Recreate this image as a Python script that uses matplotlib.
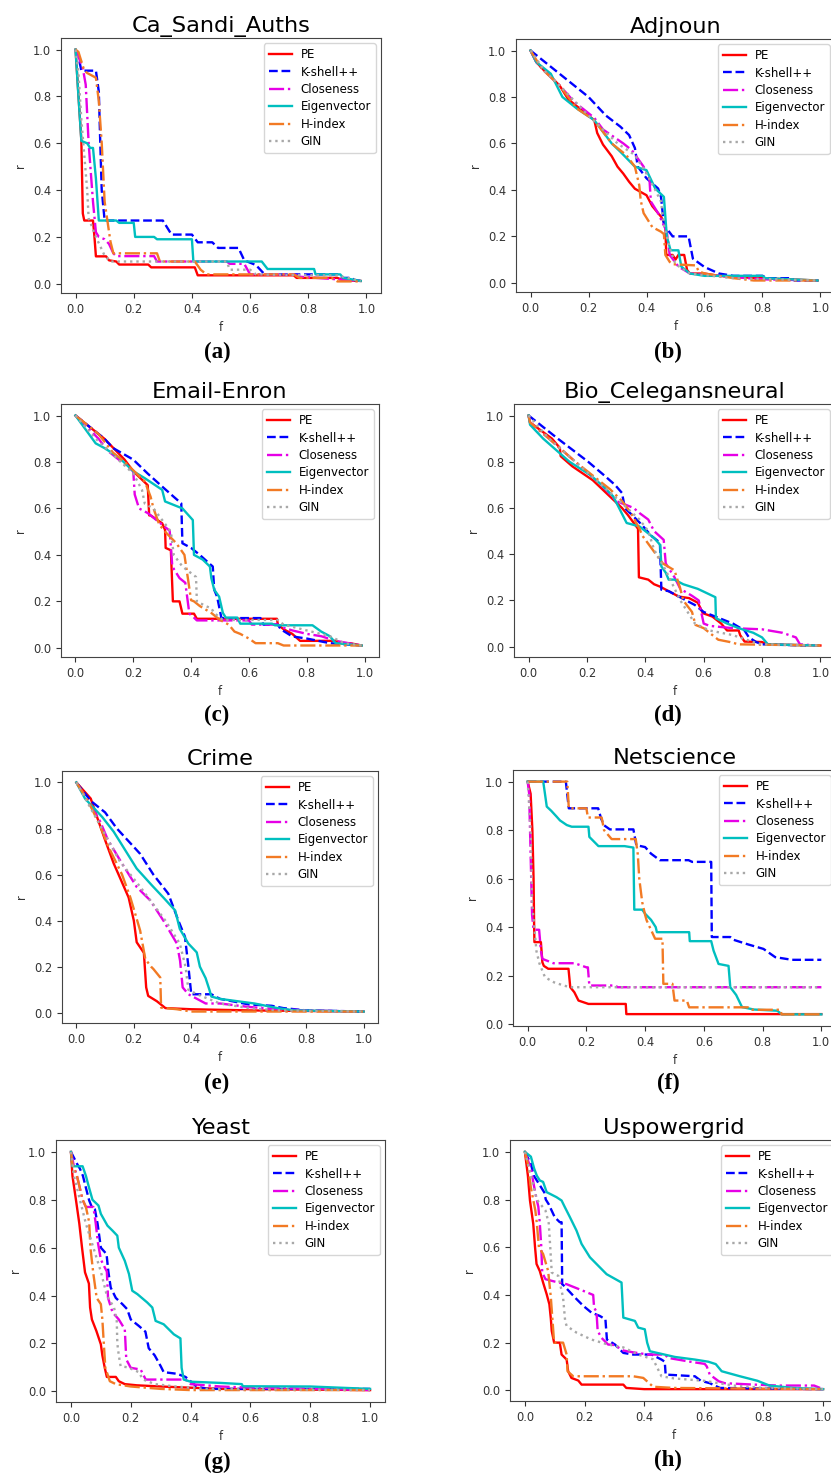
import matplotlib
matplotlib.use("Agg")
import matplotlib.pyplot as plt

# ---- (a) Ca_Sandi_Auths ----
a_pe_f = [0, 0.02, 0.025, 0.03, 0.06, 0.065, 0.07, 0.105, 0.115, 0.14, 0.15, 0.25, 0.26, 0.41, 0.42, 0.75, 0.76, 0.90, 0.92, 0.98]
a_pe_r = [1.0, 0.61, 0.30, 0.27, 0.27, 0.20, 0.117, 0.117, 0.10, 0.095, 0.082, 0.082, 0.07, 0.07, 0.036, 0.036, 0.025, 0.025, 0.015, 0.012]
a_ks_f = [0, 0.01, 0.02, 0.07, 0.08, 0.085, 0.09, 0.10, 0.30, 0.33, 0.40, 0.42, 0.47, 0.49, 0.56, 0.58, 0.62, 0.65, 0.90, 0.92, 0.95, 0.96, 0.98]
a_ks_r = [1.0, 0.97, 0.91, 0.91, 0.82, 0.60, 0.40, 0.27, 0.27, 0.21, 0.21, 0.177, 0.177, 0.153, 0.153, 0.10, 0.08, 0.04, 0.04, 0.025, 0.025, 0.015, 0.012]
a_cl_f = [0, 0.01, 0.025, 0.035, 0.045, 0.06, 0.07, 0.08, 0.10, 0.115, 0.13, 0.14, 0.27, 0.28, 0.52, 0.53, 0.58, 0.60, 0.75, 0.77, 0.98]
a_cl_r = [1.0, 0.97, 0.92, 0.85, 0.60, 0.35, 0.22, 0.20, 0.19, 0.17, 0.13, 0.118, 0.118, 0.095, 0.095, 0.085, 0.085, 0.04, 0.04, 0.03, 0.012]
a_ev_f = [0, 0.01, 0.02, 0.04, 0.05, 0.06, 0.07, 0.08, 0.14, 0.15, 0.20, 0.205, 0.27, 0.28, 0.40, 0.405, 0.64, 0.66, 0.82, 0.825, 0.91, 0.92, 0.98]
a_ev_r = [1.0, 0.80, 0.61, 0.60, 0.58, 0.58, 0.45, 0.27, 0.27, 0.26, 0.26, 0.20, 0.20, 0.19, 0.19, 0.095, 0.095, 0.063, 0.063, 0.04, 0.04, 0.025, 0.012]
a_hi_f = [0, 0.01, 0.03, 0.04, 0.07, 0.08, 0.09, 0.10, 0.12, 0.13, 0.28, 0.29, 0.41, 0.43, 0.45, 0.75, 0.77, 0.88, 0.90, 0.98]
a_hi_r = [1.0, 0.99, 0.91, 0.90, 0.88, 0.78, 0.60, 0.35, 0.18, 0.13, 0.13, 0.095, 0.095, 0.06, 0.04, 0.04, 0.025, 0.025, 0.01, 0.01]
a_gin_f = [0, 0.01, 0.02, 0.03, 0.04, 0.045, 0.07, 0.10, 0.12, 0.52, 0.53, 0.60, 0.62, 0.90, 0.98]
a_gin_r = [1.0, 0.90, 0.70, 0.55, 0.40, 0.28, 0.20, 0.12, 0.095, 0.095, 0.06, 0.06, 0.04, 0.035, 0.012]

# ---- (b) Adjnoun ----
b_pe_f = [0, 0.02, 0.05, 0.10, 0.13, 0.17, 0.21, 0.22, 0.23, 0.25, 0.28, 0.30, 0.32, 0.34, 0.36, 0.40, 0.42, 0.45, 0.465, 0.468, 0.49, 0.50, 0.51, 0.53, 0.54, 0.55, 0.60, 0.65, 0.70, 0.80, 0.99]
b_pe_r = [1.0, 0.95, 0.91, 0.85, 0.79, 0.75, 0.71, 0.70, 0.645, 0.595, 0.545, 0.50, 0.47, 0.435, 0.405, 0.377, 0.33, 0.285, 0.25, 0.12, 0.12, 0.10, 0.12, 0.12, 0.055, 0.04, 0.04, 0.03, 0.025, 0.02, 0.01]
b_ks_f = [0, 0.10, 0.20, 0.26, 0.31, 0.34, 0.36, 0.37, 0.40, 0.44, 0.45, 0.46, 0.49, 0.545, 0.56, 0.60, 0.65, 0.70, 0.80, 0.82, 0.90, 0.91, 0.99]
b_ks_r = [1.0, 0.90, 0.80, 0.72, 0.672, 0.636, 0.58, 0.50, 0.45, 0.406, 0.37, 0.25, 0.20, 0.20, 0.104, 0.068, 0.04, 0.03, 0.03, 0.02, 0.02, 0.01, 0.01]
b_cl_f = [0, 0.02, 0.05, 0.10, 0.15, 0.22, 0.25, 0.32, 0.35, 0.39, 0.41, 0.415, 0.44, 0.47, 0.48, 0.51, 0.55, 0.70, 0.80, 0.99]
b_cl_r = [1.0, 0.95, 0.91, 0.85, 0.78, 0.71, 0.66, 0.60, 0.57, 0.50, 0.45, 0.35, 0.30, 0.22, 0.12, 0.07, 0.04, 0.025, 0.015, 0.01]
b_ev_f = [0, 0.02, 0.07, 0.11, 0.16, 0.22, 0.25, 0.28, 0.31, 0.36, 0.40, 0.43, 0.46, 0.47, 0.483, 0.51, 0.52, 0.55, 0.60, 0.80, 0.81, 0.90, 0.99]
b_ev_r = [1.0, 0.95, 0.90, 0.80, 0.75, 0.70, 0.65, 0.60, 0.564, 0.50, 0.485, 0.406, 0.37, 0.20, 0.14, 0.14, 0.07, 0.04, 0.03, 0.03, 0.02, 0.015, 0.01]
b_hi_f = [0, 0.04, 0.10, 0.16, 0.22, 0.28, 0.33, 0.36, 0.375, 0.38, 0.39, 0.42, 0.45, 0.46, 0.465, 0.48, 0.49, 0.57, 0.58, 0.60, 0.70, 0.77, 0.99]
b_hi_r = [1.0, 0.92, 0.85, 0.75, 0.70, 0.60, 0.55, 0.50, 0.42, 0.355, 0.30, 0.24, 0.22, 0.21, 0.12, 0.09, 0.08, 0.075, 0.05, 0.04, 0.02, 0.01, 0.01]
b_gin_f = [0, 0.05, 0.10, 0.20, 0.30, 0.36, 0.40, 0.43, 0.45, 0.46, 0.48, 0.50, 0.55, 0.70, 0.99]
b_gin_r = [1.0, 0.91, 0.85, 0.72, 0.60, 0.55, 0.47, 0.40, 0.35, 0.25, 0.15, 0.08, 0.04, 0.02, 0.01]

# ---- (c) Email-Enron ----
c_pe_f = [0, 0.10, 0.17, 0.20, 0.25, 0.255, 0.26, 0.30, 0.31, 0.312, 0.33, 0.337, 0.36, 0.37, 0.41, 0.42, 0.697, 0.70, 0.72, 0.75, 0.777, 0.90, 0.92, 0.95, 0.99]
c_pe_r = [1.0, 0.90, 0.81, 0.76, 0.70, 0.57, 0.57, 0.536, 0.507, 0.43, 0.42, 0.20, 0.20, 0.147, 0.147, 0.125, 0.125, 0.10, 0.08, 0.06, 0.03, 0.03, 0.02, 0.02, 0.01]
c_ks_f = [0, 0.10, 0.13, 0.20, 0.25, 0.30, 0.34, 0.366, 0.37, 0.40, 0.43, 0.463, 0.475, 0.48, 0.49, 0.505, 0.64, 0.65, 0.70, 0.71, 0.75, 0.80, 0.88, 0.99]
c_ks_r = [1.0, 0.90, 0.86, 0.81, 0.75, 0.694, 0.65, 0.622, 0.45, 0.43, 0.40, 0.363, 0.35, 0.25, 0.22, 0.128, 0.128, 0.10, 0.10, 0.08, 0.049, 0.04, 0.02, 0.01]
c_cl_f = [0, 0.08, 0.11, 0.16, 0.20, 0.205, 0.22, 0.25, 0.30, 0.326, 0.335, 0.36, 0.38, 0.394, 0.41, 0.42, 0.60, 0.61, 0.70, 0.71, 0.75, 0.80, 0.85, 0.90, 0.99]
c_cl_r = [1.0, 0.90, 0.85, 0.80, 0.76, 0.66, 0.60, 0.58, 0.53, 0.504, 0.35, 0.30, 0.28, 0.147, 0.13, 0.118, 0.118, 0.10, 0.10, 0.09, 0.075, 0.06, 0.05, 0.03, 0.01]
c_ev_f = [0, 0.07, 0.10, 0.15, 0.20, 0.24, 0.30, 0.31, 0.37, 0.406, 0.41, 0.44, 0.465, 0.47, 0.48, 0.497, 0.51, 0.52, 0.56, 0.57, 0.68, 0.69, 0.82, 0.85, 0.88, 0.90, 0.99]
c_ev_r = [1.0, 0.88, 0.86, 0.82, 0.76, 0.73, 0.68, 0.63, 0.60, 0.55, 0.40, 0.38, 0.35, 0.30, 0.25, 0.22, 0.15, 0.13, 0.13, 0.104, 0.104, 0.097, 0.097, 0.07, 0.05, 0.02, 0.01]
c_hi_f = [0, 0.08, 0.13, 0.17, 0.24, 0.26, 0.27, 0.29, 0.31, 0.349, 0.377, 0.40, 0.41, 0.43, 0.47, 0.50, 0.53, 0.55, 0.57, 0.60, 0.623, 0.70, 0.72, 0.99]
c_hi_r = [1.0, 0.92, 0.84, 0.80, 0.716, 0.65, 0.60, 0.53, 0.50, 0.45, 0.40, 0.205, 0.20, 0.18, 0.15, 0.12, 0.10, 0.07, 0.06, 0.04, 0.02, 0.02, 0.01, 0.01]
c_gin_f = [0, 0.07, 0.20, 0.23, 0.24, 0.27, 0.30, 0.33, 0.34, 0.37, 0.417, 0.42, 0.45, 0.47, 0.48, 0.50, 0.51, 0.70, 0.72, 0.80, 0.88, 0.93, 0.99]
c_gin_r = [1.0, 0.90, 0.75, 0.68, 0.62, 0.60, 0.55, 0.50, 0.40, 0.35, 0.305, 0.20, 0.18, 0.17, 0.15, 0.13, 0.12, 0.12, 0.10, 0.075, 0.05, 0.02, 0.01]

# ---- (d) Bio_Celegansneural ----
d_pe_f = [0, 0.005, 0.08, 0.107, 0.11, 0.15, 0.22, 0.27, 0.32, 0.34, 0.375, 0.378, 0.41, 0.43, 0.45, 0.48, 0.514, 0.55, 0.58, 0.597, 0.63, 0.66, 0.68, 0.72, 0.725, 0.74, 0.80, 0.82, 1.0]
d_pe_r = [1.0, 0.97, 0.90, 0.86, 0.824, 0.78, 0.72, 0.66, 0.60, 0.57, 0.51, 0.30, 0.29, 0.27, 0.26, 0.24, 0.217, 0.21, 0.19, 0.145, 0.13, 0.10, 0.07, 0.07, 0.05, 0.022, 0.02, 0.01, 0.005]
d_ks_f = [0, 0.10, 0.204, 0.26, 0.296, 0.32, 0.33, 0.37, 0.388, 0.42, 0.45, 0.455, 0.48, 0.51, 0.57, 0.60, 0.64, 0.70, 0.74, 0.755, 0.78, 0.80, 0.95]
d_ks_r = [1.0, 0.90, 0.80, 0.74, 0.70, 0.665, 0.60, 0.55, 0.527, 0.48, 0.45, 0.246, 0.24, 0.22, 0.18, 0.15, 0.13, 0.10, 0.07, 0.04, 0.02, 0.01, 0.005]
d_cl_f = [0, 0.005, 0.07, 0.16, 0.25, 0.30, 0.36, 0.38, 0.41, 0.43, 0.463, 0.47, 0.49, 0.50, 0.52, 0.56, 0.583, 0.60, 0.62, 0.70, 0.80, 0.87, 0.916, 0.93, 0.99]
d_cl_r = [1.0, 0.97, 0.90, 0.80, 0.70, 0.63, 0.60, 0.578, 0.55, 0.50, 0.462, 0.36, 0.32, 0.30, 0.25, 0.22, 0.20, 0.10, 0.09, 0.08, 0.075, 0.06, 0.04, 0.01, 0.005]
d_ev_f = [0, 0.005, 0.05, 0.14, 0.21, 0.25, 0.29, 0.31, 0.336, 0.38, 0.40, 0.43, 0.451, 0.455, 0.47, 0.48, 0.50, 0.53, 0.58, 0.64, 0.642, 0.68, 0.72, 0.77, 0.80, 0.82, 0.99]
d_ev_r = [1.0, 0.96, 0.90, 0.80, 0.744, 0.70, 0.65, 0.60, 0.535, 0.52, 0.50, 0.47, 0.44, 0.347, 0.32, 0.29, 0.29, 0.27, 0.25, 0.214, 0.123, 0.10, 0.08, 0.06, 0.04, 0.01, 0.005]
d_hi_f = [0, 0.005, 0.07, 0.16, 0.23, 0.28, 0.32, 0.35, 0.38, 0.39, 0.434, 0.46, 0.50, 0.52, 0.53, 0.56, 0.572, 0.60, 0.63, 0.65, 0.69, 0.72, 1.0]
d_hi_r = [1.0, 0.97, 0.90, 0.80, 0.73, 0.68, 0.63, 0.58, 0.51, 0.48, 0.404, 0.36, 0.33, 0.25, 0.20, 0.15, 0.094, 0.08, 0.05, 0.03, 0.02, 0.01, 0.005]
d_gin_f = [0, 0.07, 0.16, 0.25, 0.32, 0.38, 0.41, 0.43, 0.47, 0.52, 0.57, 0.62, 0.70, 0.77, 0.80, 1.0]
d_gin_r = [1.0, 0.90, 0.80, 0.70, 0.62, 0.55, 0.50, 0.42, 0.33, 0.20, 0.10, 0.07, 0.05, 0.02, 0.01, 0.005]

# ---- (e) Crime ----
e_pe_f = [0, 0.05, 0.072, 0.10, 0.13, 0.147, 0.182, 0.20, 0.21, 0.235, 0.243, 0.25, 0.28, 0.31, 0.40, 0.60, 1.0]
e_pe_r = [1.0, 0.93, 0.85, 0.75, 0.648, 0.60, 0.50, 0.40, 0.306, 0.26, 0.11, 0.073, 0.05, 0.02, 0.015, 0.01, 0.005]
e_ks_f = [0, 0.05, 0.10, 0.141, 0.20, 0.222, 0.268, 0.32, 0.355, 0.378, 0.39, 0.40, 0.47, 0.50, 0.60, 0.68, 0.72, 0.80, 1.0]
e_ks_r = [1.0, 0.92, 0.87, 0.80, 0.72, 0.69, 0.60, 0.517, 0.40, 0.33, 0.20, 0.08, 0.08, 0.06, 0.036, 0.03, 0.02, 0.01, 0.005]
e_cl_f = [0, 0.05, 0.083, 0.11, 0.159, 0.21, 0.257, 0.303, 0.35, 0.361, 0.37, 0.39, 0.42, 0.45, 0.50, 0.60, 0.70, 0.80, 1.0]
e_cl_r = [1.0, 0.90, 0.83, 0.75, 0.648, 0.546, 0.488, 0.40, 0.30, 0.226, 0.11, 0.08, 0.06, 0.04, 0.04, 0.025, 0.015, 0.01, 0.005]
e_ev_f = [0, 0.03, 0.09, 0.13, 0.17, 0.21, 0.263, 0.303, 0.344, 0.36, 0.39, 0.419, 0.43, 0.45, 0.463, 0.47, 0.50, 0.56, 0.62, 0.70, 0.76, 1.0]
e_ev_r = [1.0, 0.93, 0.85, 0.786, 0.706, 0.626, 0.553, 0.50, 0.444, 0.364, 0.30, 0.262, 0.20, 0.15, 0.10, 0.07, 0.06, 0.05, 0.04, 0.02, 0.01, 0.005]
e_hi_f = [0, 0.04, 0.08, 0.112, 0.159, 0.188, 0.20, 0.222, 0.24, 0.26, 0.268, 0.292, 0.295, 0.35, 0.40, 1.0]
e_hi_r = [1.0, 0.92, 0.82, 0.72, 0.60, 0.50, 0.45, 0.357, 0.233, 0.20, 0.19, 0.153, 0.022, 0.015, 0.005, 0.005]
e_gin_f = [0, 0.08, 0.15, 0.22, 0.31, 0.36, 0.38, 0.39, 0.42, 0.50, 0.60, 0.70, 1.0]
e_gin_r = [1.0, 0.82, 0.66, 0.55, 0.40, 0.30, 0.20, 0.10, 0.08, 0.04, 0.02, 0.01, 0.005]

# ---- (f) Netscience ----
f_pe_f = [0, 0.01, 0.016, 0.02, 0.022, 0.023, 0.045, 0.05, 0.055, 0.07, 0.139, 0.145, 0.159, 0.173, 0.207, 0.334, 0.336, 1.0]
f_pe_r = [1.0, 0.95, 0.80, 0.60, 0.40, 0.338, 0.338, 0.255, 0.24, 0.228, 0.228, 0.152, 0.131, 0.097, 0.083, 0.083, 0.041, 0.041]
f_ks_f = [0, 0.13, 0.14, 0.24, 0.25, 0.26, 0.28, 0.36, 0.37, 0.40, 0.42, 0.45, 0.548, 0.56, 0.625, 0.627, 0.69, 0.70, 0.752, 0.803, 0.843, 0.90, 1.0]
f_ks_r = [1.0, 1.0, 0.89, 0.89, 0.848, 0.82, 0.803, 0.803, 0.738, 0.73, 0.703, 0.676, 0.676, 0.669, 0.669, 0.359, 0.359, 0.348, 0.328, 0.31, 0.276, 0.265, 0.265]
f_cl_f = [0, 0.005, 0.01, 0.015, 0.02, 0.039, 0.045, 0.05, 0.0875, 0.16, 0.20, 0.205, 0.21, 0.30, 0.305, 1.0]
f_cl_r = [1.0, 0.95, 0.70, 0.45, 0.389, 0.389, 0.303, 0.269, 0.251, 0.251, 0.234, 0.234, 0.159, 0.159, 0.152, 0.152]
f_ev_f = [0, 0.053, 0.065, 0.08, 0.099, 0.11, 0.133, 0.15, 0.207, 0.21, 0.241, 0.33, 0.36, 0.363, 0.39, 0.40, 0.42, 0.436, 0.44, 0.55, 0.552, 0.625, 0.633, 0.65, 0.684, 0.69, 0.71, 0.73, 0.77, 0.85, 0.866, 1.0]
f_ev_r = [1.0, 1.0, 0.897, 0.88, 0.855, 0.84, 0.821, 0.814, 0.814, 0.772, 0.734, 0.734, 0.728, 0.472, 0.472, 0.455, 0.43, 0.40, 0.379, 0.379, 0.342, 0.342, 0.303, 0.248, 0.24, 0.152, 0.12, 0.07, 0.06, 0.055, 0.04, 0.04]
f_hi_f = [0, 0.135, 0.14, 0.20, 0.205, 0.252, 0.26, 0.286, 0.368, 0.375, 0.38, 0.39, 0.40, 0.405, 0.434, 0.459, 0.462, 0.493, 0.50, 0.542, 0.55, 0.75, 0.76, 0.86, 0.865, 1.0]
f_hi_r = [1.0, 1.0, 0.89, 0.89, 0.852, 0.852, 0.80, 0.763, 0.763, 0.70, 0.60, 0.503, 0.45, 0.428, 0.352, 0.352, 0.166, 0.166, 0.097, 0.097, 0.069, 0.069, 0.059, 0.059, 0.04, 0.04]
f_gin_f = [0, 0.01, 0.015, 0.03, 0.04, 0.059, 0.09, 0.12, 0.144, 1.0]
f_gin_r = [1.0, 0.80, 0.50, 0.30, 0.25, 0.193, 0.172, 0.16, 0.152, 0.152]

# ---- (g) Yeast ----
g_pe_f = [0, 0.005, 0.017, 0.028, 0.037, 0.047, 0.06, 0.064, 0.07, 0.085, 0.10, 0.105, 0.113, 0.12, 0.15, 0.16, 0.18, 0.22, 0.30, 0.40, 0.50, 1.0]
g_pe_r = [1.0, 0.90, 0.797, 0.70, 0.60, 0.497, 0.45, 0.35, 0.30, 0.252, 0.196, 0.15, 0.098, 0.06, 0.06, 0.042, 0.03, 0.025, 0.02, 0.015, 0.01, 0.005]
g_ks_f = [0, 0.02, 0.03, 0.04, 0.05, 0.061, 0.07, 0.08, 0.089, 0.10, 0.119, 0.125, 0.133, 0.15, 0.172, 0.188, 0.20, 0.227, 0.249, 0.26, 0.28, 0.30, 0.31, 0.355, 0.383, 0.40, 0.42, 0.455, 1.0]
g_ks_r = [1.0, 0.951, 0.93, 0.90, 0.85, 0.797, 0.769, 0.76, 0.70, 0.60, 0.573, 0.50, 0.433, 0.39, 0.364, 0.343, 0.30, 0.273, 0.249, 0.18, 0.15, 0.105, 0.08, 0.073, 0.06, 0.042, 0.02, 0.01, 0.01]
g_cl_f = [0, 0.01, 0.02, 0.039, 0.05, 0.075, 0.083, 0.09, 0.10, 0.12, 0.124, 0.139, 0.16, 0.18, 0.185, 0.20, 0.233, 0.25, 0.383, 0.40, 0.50, 0.60, 0.83, 1.0]
g_cl_r = [1.0, 0.94, 0.90, 0.80, 0.77, 0.77, 0.70, 0.622, 0.55, 0.50, 0.39, 0.33, 0.30, 0.259, 0.133, 0.098, 0.091, 0.049, 0.049, 0.03, 0.02, 0.015, 0.01, 0.005]
g_ev_f = [0, 0.005, 0.039, 0.05, 0.06, 0.072, 0.092, 0.10, 0.122, 0.139, 0.155, 0.16, 0.18, 0.194, 0.205, 0.222, 0.255, 0.272, 0.283, 0.31, 0.344, 0.366, 0.37, 0.377, 0.40, 0.50, 0.571, 0.575, 0.80, 0.90, 1.0]
g_ev_r = [1.0, 0.94, 0.94, 0.90, 0.853, 0.80, 0.776, 0.741, 0.692, 0.671, 0.65, 0.60, 0.545, 0.49, 0.42, 0.406, 0.371, 0.35, 0.294, 0.28, 0.238, 0.221, 0.098, 0.049, 0.04, 0.035, 0.03, 0.021, 0.02, 0.015, 0.01]
g_hi_f = [0, 0.005, 0.02, 0.039, 0.05, 0.061, 0.065, 0.075, 0.086, 0.10, 0.105, 0.11, 0.115, 0.13, 0.15, 0.20, 0.30, 0.40, 1.0]
g_hi_r = [1.0, 0.95, 0.90, 0.80, 0.77, 0.706, 0.60, 0.49, 0.39, 0.364, 0.30, 0.196, 0.098, 0.042, 0.03, 0.02, 0.01, 0.005, 0.005]
g_gin_f = [0, 0.01, 0.03, 0.05, 0.075, 0.10, 0.12, 0.144, 0.153, 0.155, 0.16, 0.166, 0.19, 0.227, 0.24, 0.28, 0.35, 0.45, 1.0]
g_gin_r = [1.0, 0.90, 0.80, 0.70, 0.60, 0.50, 0.40, 0.35, 0.30, 0.20, 0.15, 0.105, 0.10, 0.08, 0.05, 0.03, 0.02, 0.01, 0.005]

# ---- (h) Uspowergrid ----
h_pe_f = [0, 0.005, 0.01, 0.017, 0.028, 0.034, 0.039, 0.05, 0.061, 0.073, 0.082, 0.087, 0.09, 0.098, 0.117, 0.123, 0.14, 0.145, 0.156, 0.179, 0.19, 0.33, 0.34, 0.40, 1.0]
h_pe_r = [1.0, 0.95, 0.90, 0.796, 0.698, 0.60, 0.53, 0.50, 0.452, 0.403, 0.361, 0.30, 0.249, 0.20, 0.20, 0.15, 0.129, 0.08, 0.052, 0.041, 0.024, 0.024, 0.01, 0.005, 0.005]
h_ks_f = [0, 0.02, 0.03, 0.05, 0.061, 0.065, 0.07, 0.08, 0.10, 0.117, 0.123, 0.125, 0.13, 0.168, 0.196, 0.223, 0.251, 0.27, 0.275, 0.302, 0.33, 0.363, 0.425, 0.458, 0.469, 0.472, 0.57, 0.59, 0.62, 0.654, 1.0]
h_ks_r = [1.0, 0.95, 0.90, 0.86, 0.838, 0.83, 0.80, 0.78, 0.726, 0.705, 0.705, 0.445, 0.44, 0.389, 0.354, 0.326, 0.312, 0.298, 0.213, 0.192, 0.157, 0.15, 0.15, 0.129, 0.12, 0.066, 0.059, 0.04, 0.03, 0.01, 0.005]
h_cl_f = [0, 0.02, 0.03, 0.039, 0.045, 0.05, 0.055, 0.058, 0.069, 0.10, 0.14, 0.168, 0.196, 0.229, 0.232, 0.24, 0.244, 0.257, 0.279, 0.30, 0.33, 0.36, 0.413, 0.47, 0.48, 0.559, 0.603, 0.61, 0.62, 0.65, 0.67, 0.75, 0.85, 0.97, 0.99]
h_cl_r = [1.0, 0.93, 0.86, 0.803, 0.77, 0.70, 0.60, 0.494, 0.466, 0.456, 0.445, 0.431, 0.417, 0.40, 0.347, 0.33, 0.249, 0.22, 0.192, 0.19, 0.167, 0.16, 0.15, 0.15, 0.136, 0.119, 0.111, 0.10, 0.066, 0.038, 0.03, 0.025, 0.02, 0.02, 0.01]
h_ev_f = [0, 0.02, 0.031, 0.04, 0.05, 0.061, 0.073, 0.106, 0.123, 0.134, 0.151, 0.173, 0.19, 0.218, 0.24, 0.274, 0.324, 0.33, 0.369, 0.38, 0.402, 0.41, 0.419, 0.503, 0.57, 0.615, 0.64, 0.66, 0.721, 0.78, 0.82, 0.90, 1.0]
h_ev_r = [1.0, 0.98, 0.93, 0.90, 0.88, 0.874, 0.831, 0.81, 0.796, 0.768, 0.726, 0.67, 0.614, 0.558, 0.53, 0.487, 0.452, 0.305, 0.291, 0.263, 0.256, 0.20, 0.164, 0.14, 0.129, 0.12, 0.11, 0.08, 0.059, 0.04, 0.02, 0.01, 0.005]
h_hi_f = [0, 0.01, 0.02, 0.035, 0.04, 0.047, 0.061, 0.078, 0.087, 0.098, 0.128, 0.14, 0.143, 0.162, 0.363, 0.397, 0.422, 0.43, 0.50, 1.0]
h_hi_r = [1.0, 0.95, 0.85, 0.754, 0.70, 0.60, 0.572, 0.50, 0.389, 0.20, 0.20, 0.15, 0.08, 0.059, 0.059, 0.052, 0.024, 0.015, 0.01, 0.005]
h_gin_f = [0, 0.02, 0.04, 0.069, 0.08, 0.085, 0.09, 0.112, 0.128, 0.135, 0.14, 0.173, 0.223, 0.279, 0.33, 0.38, 0.43, 0.458, 0.50, 0.60, 0.70, 0.80, 1.0]
h_gin_r = [1.0, 0.90, 0.80, 0.754, 0.70, 0.60, 0.494, 0.48, 0.389, 0.29, 0.27, 0.242, 0.213, 0.192, 0.18, 0.15, 0.13, 0.059, 0.05, 0.04, 0.02, 0.01, 0.005]

METHODS = ["PE", "K-shell++", "Closeness", "Eigenvector", "H-index", "GIN"]
STYLE = {
    "PE":          dict(color="#ff0000", ls="-"),
    "K-shell++":   dict(color="#0000ff", ls="--"),
    "Closeness":   dict(color="#e600e6", ls="-."),
    "Eigenvector": dict(color="#00bfbf", ls="-"),
    "H-index":     dict(color="#f27a24", ls="-."),
    "GIN":         dict(color="#a8a8a8", ls=":"),
}

PANELS = [
    ("Ca_Sandi_Auths", "(a)", [(a_pe_f, a_pe_r), (a_ks_f, a_ks_r), (a_cl_f, a_cl_r), (a_ev_f, a_ev_r), (a_hi_f, a_hi_r), (a_gin_f, a_gin_r)]),
    ("Adjnoun", "(b)", [(b_pe_f, b_pe_r), (b_ks_f, b_ks_r), (b_cl_f, b_cl_r), (b_ev_f, b_ev_r), (b_hi_f, b_hi_r), (b_gin_f, b_gin_r)]),
    ("Email-Enron", "(c)", [(c_pe_f, c_pe_r), (c_ks_f, c_ks_r), (c_cl_f, c_cl_r), (c_ev_f, c_ev_r), (c_hi_f, c_hi_r), (c_gin_f, c_gin_r)]),
    ("Bio_Celegansneural", "(d)", [(d_pe_f, d_pe_r), (d_ks_f, d_ks_r), (d_cl_f, d_cl_r), (d_ev_f, d_ev_r), (d_hi_f, d_hi_r), (d_gin_f, d_gin_r)]),
    ("Crime", "(e)", [(e_pe_f, e_pe_r), (e_ks_f, e_ks_r), (e_cl_f, e_cl_r), (e_ev_f, e_ev_r), (e_hi_f, e_hi_r), (e_gin_f, e_gin_r)]),
    ("Netscience", "(f)", [(f_pe_f, f_pe_r), (f_ks_f, f_ks_r), (f_cl_f, f_cl_r), (f_ev_f, f_ev_r), (f_hi_f, f_hi_r), (f_gin_f, f_gin_r)]),
    ("Yeast", "(g)", [(g_pe_f, g_pe_r), (g_ks_f, g_ks_r), (g_cl_f, g_cl_r), (g_ev_f, g_ev_r), (g_hi_f, g_hi_r), (g_gin_f, g_gin_r)]),
    ("Uspowergrid", "(h)", [(h_pe_f, h_pe_r), (h_ks_f, h_ks_r), (h_cl_f, h_cl_r), (h_ev_f, h_ev_r), (h_hi_f, h_hi_r), (h_gin_f, h_gin_r)]),
]

# axes boxes in pixels (left, right, top, bottom) and label centres, measured on the reference
W, H = 831, 1475
BOXES = [(61, 381, 38, 293), (516, 835, 39, 292),
         (61, 379, 404, 657), (514, 835, 404, 657),
         (62, 378, 771, 1023), (513, 836, 770, 1026),
         (56, 385, 1140, 1402), (510, 838, 1140, 1401)]
LABEL_POS = [(217, 352), (668, 352), (217, 715), (668, 715),
             (217, 1083), (668, 1083), (217, 1462), (668, 1460)]

fig = plt.figure(figsize=(W / 100, H / 100), dpi=100)

for (title, tag, series), (x0, x1, y0, y1), (lx, ly) in zip(PANELS, BOXES, LABEL_POS):
    ax = fig.add_axes([x0 / W, 1 - y1 / H, (x1 - x0) / W, (y1 - y0) / H])
    for name, (fx, ry) in zip(METHODS, series):
        ax.plot(fx, ry, label=name, lw=1.7, **STYLE[name])
    ax.set_xlim(-0.05, 1.05)
    ax.set_xticks([0, 0.2, 0.4, 0.6, 0.8, 1.0])
    ax.set_yticks([0, 0.2, 0.4, 0.6, 0.8, 1.0])
    ax.tick_params(labelsize=8.3, colors="#333333")
    for s in ax.spines.values():
        s.set_color("#444444")
    ax.set_xlabel("f", fontsize=8.3, color="#333333")
    ax.set_ylabel("r", fontsize=8.3, color="#333333")
    ax.set_title(title, fontsize=16.2, pad=4)
    ax.legend(loc="upper right", fontsize=8.5, labelspacing=0.38,
              handlelength=2.0, handletextpad=0.7, borderaxespad=0.45)
    fig.text(lx / W, 1 - ly / H, tag, ha="center", va="center",
             fontsize=16.5, fontweight="bold", family="Liberation Serif")

fig.savefig("out.png", dpi=100, facecolor="white")
